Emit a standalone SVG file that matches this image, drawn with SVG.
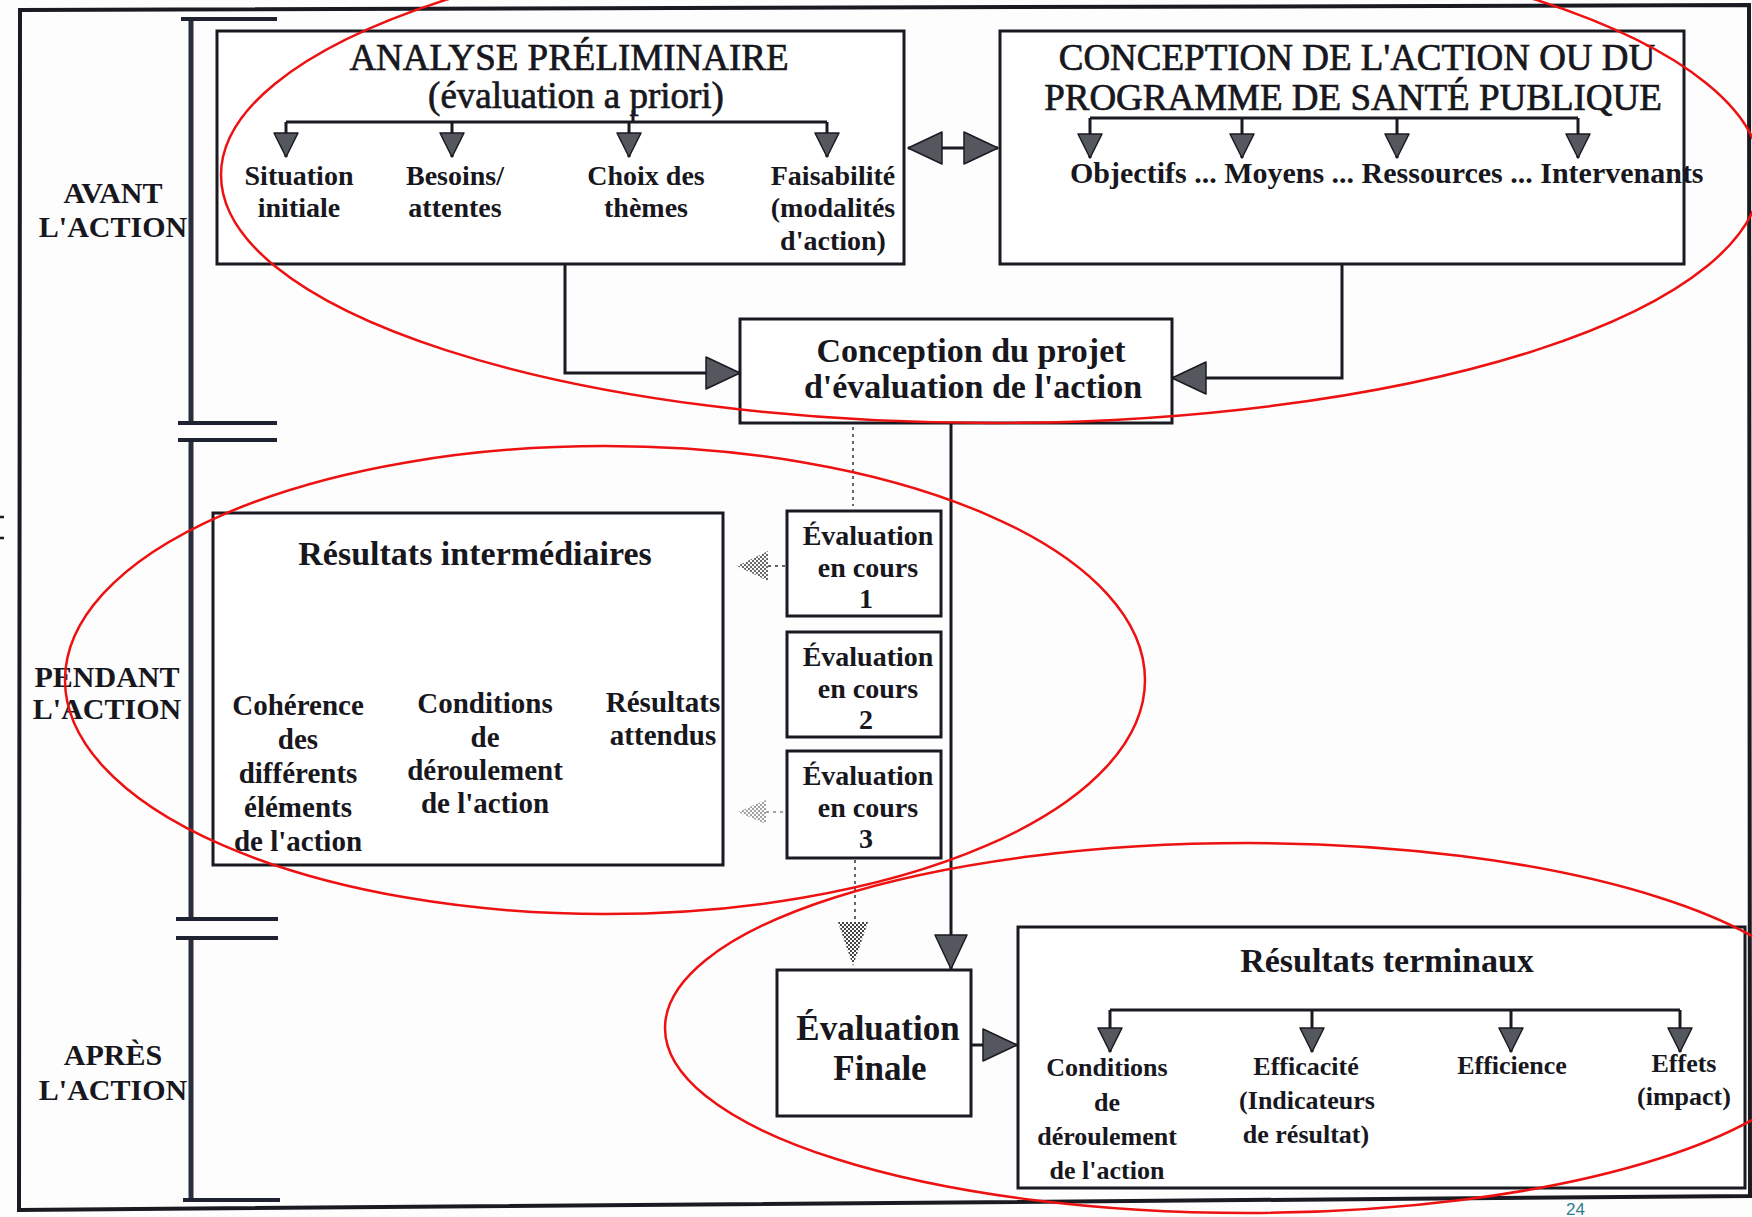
<svg xmlns="http://www.w3.org/2000/svg" width="1752" height="1217" viewBox="0 0 1752 1217">
<style>
.t{font-family:"Liberation Serif","DejaVu Serif",serif;fill:#17171d;text-anchor:middle}
.b{font-weight:bold}
.cap{font-size:37px;stroke:#17171d;stroke-width:0.7px}
.s26{font-size:26px}.s28{font-size:28px}.s29{font-size:29px}.s30{font-size:30px}.s34{font-size:34px}.s35{font-size:35px}
.box{fill:#fff;stroke:#1a1a22;stroke-width:3}
.ln{fill:none;stroke:#1a1a22;stroke-width:3}
.tl{fill:none;stroke:#2a2e3e;stroke-width:5}
.tk{fill:none;stroke:#1f2230;stroke-width:4}
.dot{fill:none;stroke:#666;stroke-width:2;stroke-dasharray:3 4}
.red{fill:none;stroke:#ee1111;stroke-width:2.5}
</style>
<defs>
<marker id="ah" markerUnits="userSpaceOnUse" markerWidth="26" markerHeight="26" viewBox="0 0 26 26" refX="25" refY="13" orient="auto" style="overflow:visible">
<path d="M1,1 L25,13 L1,25 Z" fill="#55575f" stroke="#1a1a22" stroke-width="1.5" stroke-linejoin="round"/>
</marker>
<marker id="ahL" markerUnits="userSpaceOnUse" markerWidth="36" markerHeight="34" viewBox="0 0 36 34" refX="35" refY="17" orient="auto-start-reverse" style="overflow:visible">
<path d="M1,1 L35,17 L1,33 Z" fill="#55575f" stroke="#1a1a22" stroke-width="1.5" stroke-linejoin="round"/>
</marker>
<pattern id="ht" width="4" height="4" patternUnits="userSpaceOnUse">
<rect x="0" y="0" width="2" height="2" fill="#444"/>
<rect x="2" y="2" width="2" height="2" fill="#444"/>
</pattern>
</defs>
<rect width="1752" height="1217" fill="#fdfdfd"/>
<g id="frame">
<path d="M20,10 L1749,5 L1750,1196 L19,1210 Z" fill="none" stroke="#1a1a22" stroke-width="4"/>
<path d="M0,517 H4 M0,538 H4" stroke="#1a1a22" stroke-width="2.5"/>
<text x="1566" y="1215" style="font-family:'Liberation Sans',sans-serif;font-size:17px;fill:#2e7d8c">24</text>
</g>
<g id="timeline">
<path class="tl" d="M191,19 V423 M191,440 V919 M191,938 V1200"/>
<path class="tk" d="M181,19 H277 M178,423 H277 M178,440 H277 M176,919 H278 M176,938 H278 M183,1200 H280"/>
<text class="t b s30" x="113" y="203">AVANT</text>
<text class="t b s30" x="113" y="237">L'ACTION</text>
<text class="t b s30" x="107" y="687">PENDANT</text>
<text class="t b s30" x="107" y="719">L'ACTION</text>
<text class="t b s30" x="113" y="1065">APRÈS</text>
<text class="t b s30" x="113" y="1100">L'ACTION</text>
</g>
<g id="analyse">
<rect class="box" x="217" y="31" width="687" height="233"/>
<text class="t cap" x="569" y="70">ANALYSE PRÉLIMINAIRE</text>
<text class="t cap" x="576" y="108">(évaluation a priori)</text>
<path class="ln" d="M286,122 H827 M633,110 V122"/>
<path class="ln" marker-end="url(#ah)" d="M286,122 V157"/>
<path class="ln" marker-end="url(#ah)" d="M452,122 V157"/>
<path class="ln" marker-end="url(#ah)" d="M629,122 V157"/>
<path class="ln" marker-end="url(#ah)" d="M827,122 V157"/>
<text class="t b s28" x="299" y="185">Situation</text>
<text class="t b s28" x="299" y="217">initiale</text>
<text class="t b s28" x="455" y="185">Besoins/</text>
<text class="t b s28" x="455" y="217">attentes</text>
<text class="t b s28" x="646" y="185">Choix des</text>
<text class="t b s28" x="646" y="217">thèmes</text>
<text class="t b s28" x="833" y="185">Faisabilité</text>
<text class="t b s28" x="833" y="217">(modalités</text>
<text class="t b s28" x="833" y="250">d'action)</text>
</g>
<g id="conception-action">
<rect class="box" x="1000" y="31" width="684" height="233"/>
<text class="t cap" x="1357" y="70">CONCEPTION DE L'ACTION OU DU</text>
<text class="t cap" x="1353" y="110">PROGRAMME DE SANTÉ PUBLIQUE</text>
<path class="ln" d="M1090,118 H1578"/>
<path class="ln" marker-end="url(#ah)" d="M1090,118 V158"/>
<path class="ln" marker-end="url(#ah)" d="M1242,118 V158"/>
<path class="ln" marker-end="url(#ah)" d="M1397,118 V158"/>
<path class="ln" marker-end="url(#ah)" d="M1578,118 V158"/>
<text class="t b s30" x="1070" y="183" style="text-anchor:start">Objectifs ... Moyens ... Ressources ... Intervenants</text>
</g>
<g id="conception-projet">
<rect class="box" x="740" y="319" width="432" height="104"/>
<text class="t b s34" x="971" y="362">Conception du projet</text>
<text class="t b s34" x="973" y="398">d'évaluation de l'action</text>
</g>
<g id="resultats-intermediaires">
<rect class="box" x="213" y="513" width="510" height="352"/>
<text class="t b s34" x="475" y="565">Résultats intermédiaires</text>
<text class="t b s29" x="298" y="715">Cohérence</text>
<text class="t b s29" x="298" y="749">des</text>
<text class="t b s29" x="298" y="783">différents</text>
<text class="t b s29" x="298" y="817">éléments</text>
<text class="t b s29" x="298" y="851">de l'action</text>
<text class="t b s29" x="485" y="713">Conditions</text>
<text class="t b s29" x="485" y="747">de</text>
<text class="t b s29" x="485" y="780">déroulement</text>
<text class="t b s29" x="485" y="813">de l'action</text>
<text class="t b s29" x="663" y="712">Résultats</text>
<text class="t b s29" x="663" y="745">attendus</text>
</g>
<g id="evaluation-en-cours-1">
<rect class="box" x="787" y="511" width="154" height="105"/>
<text class="t b s28" x="868" y="545">Évaluation</text>
<text class="t b s28" x="868" y="577">en cours</text>
<text class="t b s28" x="866" y="608">1</text>
</g>
<g id="evaluation-en-cours-2">
<rect class="box" x="787" y="632" width="154" height="105"/>
<text class="t b s28" x="868" y="666">Évaluation</text>
<text class="t b s28" x="868" y="698">en cours</text>
<text class="t b s28" x="866" y="729">2</text>
</g>
<g id="evaluation-en-cours-3">
<rect class="box" x="787" y="751" width="154" height="107"/>
<text class="t b s28" x="868" y="785">Évaluation</text>
<text class="t b s28" x="868" y="817">en cours</text>
<text class="t b s28" x="866" y="848">3</text>
</g>
<g id="evaluation-finale">
<rect class="box" x="777" y="970" width="194" height="146"/>
<text class="t b s35" x="878" y="1040">Évaluation</text>
<text class="t b s35" x="880" y="1080">Finale</text>
</g>
<g id="resultats-terminaux">
<rect class="box" x="1018" y="927" width="727" height="261"/>
<text class="t b s34" x="1387" y="972">Résultats terminaux</text>
<path class="ln" d="M1110,1010 H1680"/>
<path class="ln" marker-end="url(#ah)" d="M1110,1010 V1052"/>
<path class="ln" marker-end="url(#ah)" d="M1312,1010 V1052"/>
<path class="ln" marker-end="url(#ah)" d="M1511,1010 V1052"/>
<path class="ln" marker-end="url(#ah)" d="M1680,1010 V1052"/>
<text class="t b s26" x="1107" y="1076">Conditions</text>
<text class="t b s26" x="1107" y="1111">de</text>
<text class="t b s26" x="1107" y="1145">déroulement</text>
<text class="t b s26" x="1107" y="1179">de l'action</text>
<text class="t b s26" x="1306" y="1075">Efficacité</text>
<text class="t b s26" x="1307" y="1109">(Indicateurs</text>
<text class="t b s26" x="1306" y="1143">de résultat)</text>
<text class="t b s26" x="1512" y="1074">Efficience</text>
<text class="t b s26" x="1684" y="1072">Effets</text>
<text class="t b s26" x="1684" y="1105">(impact)</text>
</g>
<g id="connectors">
<path class="ln" marker-end="url(#ahL)" d="M565,265 V373 H740"/>
<path class="ln" marker-end="url(#ahL)" d="M1342,265 V378 H1172"/>
<path class="ln" marker-end="url(#ahL)" d="M951,423 V969"/>
<path class="ln" marker-end="url(#ahL)" d="M972,1045 H1017"/>
<path class="ln" marker-start="url(#ahL)" marker-end="url(#ahL)" d="M908,148 H998"/>
<path class="dot" d="M853,427 V506"/>
<path class="dot" d="M768,566 H787"/>
<polygon points="737,566 768,551 768,581" fill="url(#ht)" opacity="0.8"/>
<path class="dot" d="M766,812 H787" opacity="0.6"/>
<polygon points="738,812 766,800 766,824" fill="url(#ht)" opacity="0.5"/>
<path class="dot" d="M855,860 V924"/>
<polygon points="838,922 868,922 853,966" fill="url(#ht)"/>
</g>
<g id="annotations">
<ellipse class="red" cx="991" cy="175" rx="770" ry="248"/>
<ellipse class="red" cx="605" cy="680" rx="540" ry="234"/>
<ellipse class="red" cx="1247" cy="1028" rx="582" ry="185"/>
</g>
</svg>
